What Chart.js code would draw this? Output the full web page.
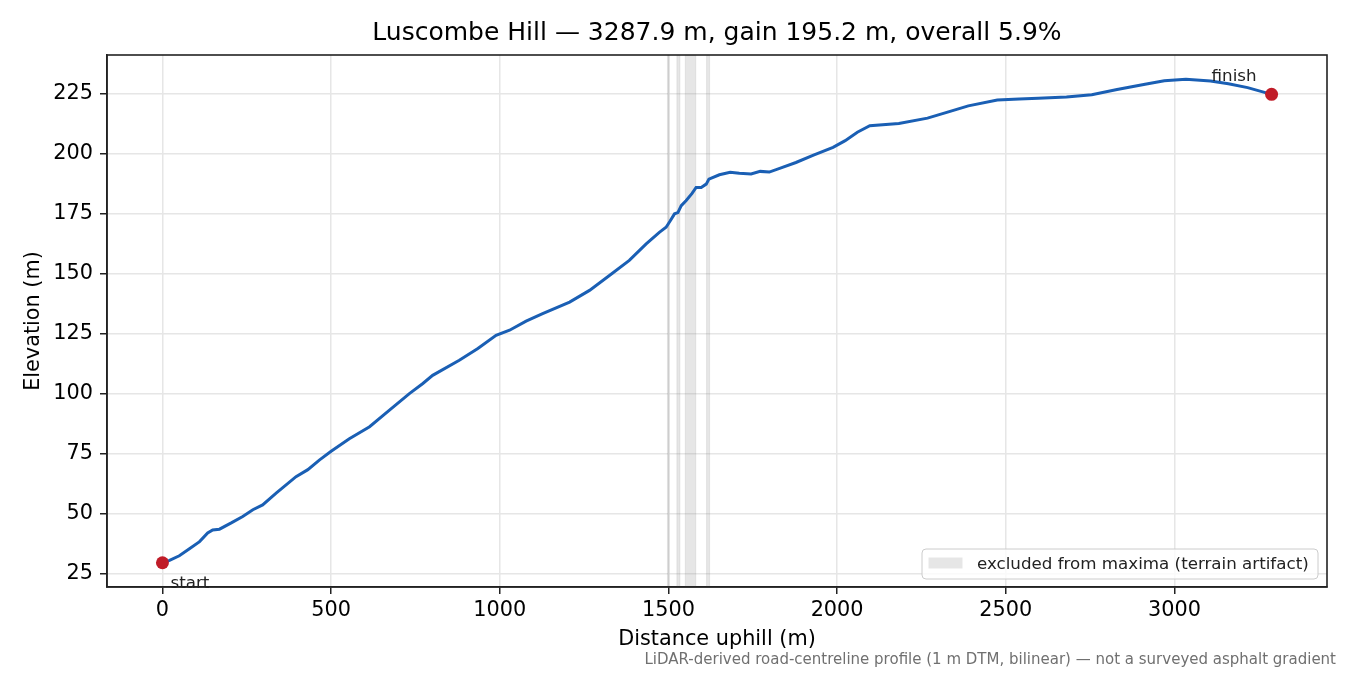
<!DOCTYPE html>
<html>
<head>
<meta charset="utf-8">
<script src="https://cdn.jsdelivr.net/npm/chart.js@4/dist/chart.umd.min.js"></script>
<style>
  html, body { margin: 0; padding: 0; background: #fff; }
  #wrap { width: 1350px; height: 675px; }
</style>
</head>
<body>
<div id="wrap"><canvas id="profile" width="1350" height="675"></canvas></div>
<script>
// profile (distance uphill in m, elevation in m)
const distances = [0, 21, 50, 80, 110, 134, 149, 169, 204, 238, 268, 297, 337, 396, 431, 465, 500, 554, 614, 673, 732, 772, 801, 880, 935, 989, 1029, 1078, 1127, 1207, 1266, 1325, 1384, 1434, 1473, 1493, 1505, 1518, 1528, 1538, 1552, 1570, 1582, 1597, 1612, 1620, 1651, 1683, 1710, 1745, 1772, 1799, 1840, 1878, 1930, 1988, 2024, 2060, 2097, 2183, 2268, 2330, 2389, 2475, 2540, 2596, 2680, 2755, 2830, 2913, 2970, 3034, 3107, 3160, 3217, 3288];
const elevations = [29.6, 30.6, 32.5, 35.4, 38.4, 42.0, 43.3, 43.6, 46.2, 48.9, 51.7, 53.7, 58.6, 65.5, 68.4, 72.4, 76.1, 81.3, 86.3, 93.2, 100.1, 104.3, 107.7, 114.0, 118.9, 124.4, 126.5, 130.3, 133.4, 138.2, 143.1, 149.3, 155.6, 162.5, 167.3, 169.4, 172.0, 175.0, 175.5, 178.4, 180.5, 183.5, 186.0, 186.0, 187.4, 189.5, 191.3, 192.3, 191.9, 191.6, 192.7, 192.4, 194.5, 196.4, 199.5, 202.7, 205.5, 209.0, 211.7, 212.7, 214.9, 217.5, 220.0, 222.4, 222.9, 223.2, 223.7, 224.6, 226.8, 229.0, 230.5, 231.1, 230.4, 229.2, 227.6, 224.8];

const xTicks = [0, 500, 1000, 1500, 2000, 2500, 3000];
const yTicks = [25, 50, 75, 100, 125, 150, 175, 200, 225];

// spans excluded from maxima (m)
const excludedBands = [[1497, 1502], [1525, 1534], [1550, 1581], [1613, 1622]];

const titleText = "Luscombe Hill \u2014 3287.9 m, gain 195.2 m, overall 5.9%";
const legendText = "excluded from maxima (terrain artifact)";
const footerText = "LiDAR-derived road-centreline profile (1 m DTM, bilinear) \u2014 not a surveyed asphalt gradient";

const FONT = "'DejaVu Sans', sans-serif";
const lineBlue = "#1a5fb4";
const dotRed = "#c01c28";

const profilePoints = distances.map((d, i) => ({x: d, y: elevations[i]}));
const last = distances.length - 1;
const endPoints = [
  {x: distances[0], y: elevations[0]},
  {x: distances[last], y: elevations[last]}
];

const extras = {
  id: "extras",
  beforeDatasetsDraw(chart) {
    const {ctx, chartArea: a, scales: {x}} = chart;
    ctx.save();
    ctx.beginPath();
    ctx.rect(a.left, a.top, a.right - a.left, a.bottom - a.top);
    ctx.clip();
    excludedBands.forEach(([b0, b1]) => {
      const x0 = x.getPixelForValue(b0), x1 = x.getPixelForValue(b1);
      ctx.fillStyle = "rgba(128,128,128,0.2)";
      ctx.fillRect(x0, a.top, x1 - x0, a.bottom - a.top);
      ctx.strokeStyle = "rgba(128,128,128,0.15)";
      ctx.lineWidth = 1;
      ctx.strokeRect(x0, a.top, x1 - x0, a.bottom - a.top);
    });
    ctx.restore();
  },
  afterDraw(chart) {
    const {ctx, chartArea: a, scales: {x, y}} = chart;
    ctx.save();
    // frame
    ctx.strokeStyle = "#222";
    ctx.lineWidth = 1.6;
    ctx.strokeRect(a.left, a.top, a.right - a.left, a.bottom - a.top);

    // title
    ctx.fillStyle = "#000";
    ctx.font = "25px " + FONT;
    ctx.textAlign = "center";
    ctx.textBaseline = "middle";
    ctx.fillText(titleText, (a.left + a.right) / 2, 33);

    // start / finish notes
    ctx.font = "16.7px " + FONT;
    ctx.fillStyle = "#222";
    ctx.textBaseline = "alphabetic";
    const sx = x.getPixelForValue(distances[0]), sy = y.getPixelForValue(elevations[0]);
    ctx.textAlign = "left";
    ctx.fillText("start", sx + 8, sy + 25);
    const fx = x.getPixelForValue(distances[last]), fy = y.getPixelForValue(elevations[last]);
    ctx.textAlign = "right";
    ctx.fillText("finish", fx - 15, fy - 13);

    // legend
    const lx = a.right - 405, ly = a.bottom - 38, lw = 396, lh = 30;
    ctx.beginPath();
    ctx.roundRect(lx, ly, lw, lh, 4);
    ctx.fillStyle = "rgba(255,255,255,0.8)";
    ctx.fill();
    ctx.strokeStyle = "#cccccc";
    ctx.lineWidth = 1;
    ctx.stroke();
    ctx.fillStyle = "rgba(128,128,128,0.2)";
    ctx.fillRect(lx + 6.5, ly + 8.5, 34, 11);
    ctx.fillStyle = "#222";
    ctx.textAlign = "left";
    ctx.fillText(legendText, lx + 55, ly + 19.5);

    // footer note
    ctx.font = "15px " + FONT;
    ctx.fillStyle = "#707070";
    ctx.textAlign = "right";
    ctx.fillText(footerText, 1336, 664);
    ctx.restore();
  }
};

const tickFont = {family: FONT, size: 20.8};

new Chart(document.getElementById("profile").getContext("2d"), {
  type: "line",
  data: {
    datasets: [
      {
        label: "profile",
        data: profilePoints,
        borderColor: lineBlue,
        backgroundColor: lineBlue,
        borderWidth: 3,
        pointRadius: 0,
        tension: 0,
        fill: false,
        order: 2
      },
      {
        label: "ends",
        data: endPoints,
        showLine: false,
        pointRadius: 6.5,
        pointBackgroundColor: dotRed,
        pointBorderColor: dotRed,
        borderWidth: 0,
        order: 1
      }
    ]
  },
  options: {
    responsive: false,
    animation: false,
    devicePixelRatio: 1,
    layout: {padding: {top: 55, right: 23, left: 0, bottom: 0}},
    scales: {
      x: {
        type: "linear",
        min: -164.4,
        max: 3452.3,
        afterBuildTicks: (s) => { s.ticks = xTicks.map(v => ({value: v})); },
        afterFit: (s) => { s.height = 88; },
        ticks: {color: "#000", font: tickFont, maxRotation: 0, padding: 4, callback: (v) => String(v)},
        grid: {color: "#e6e6e6", lineWidth: 1.5, tickColor: "#222", tickLength: 7, tickWidth: 1.5},
        border: {display: true, color: "#222", width: 1.6},
        title: {display: true, text: "Distance uphill (m)", color: "#000", font: tickFont, padding: {top: 0, bottom: 22.5}}
      },
      y: {
        type: "linear",
        min: 19.5,
        max: 241.2,
        afterBuildTicks: (s) => { s.ticks = yTicks.map(v => ({value: v})); },
        afterFit: (s) => { s.width = 107; },
        ticks: {color: "#000", font: tickFont, padding: 7, callback: (v) => String(v)},
        grid: {color: "#e6e6e6", lineWidth: 1.5, tickColor: "#222", tickLength: 7, tickWidth: 1.5},
        border: {display: true, color: "#222", width: 1.6},
        title: {display: true, text: "Elevation (m)", color: "#000", font: tickFont, padding: {top: 21.5, bottom: 0}}
      }
    },
    plugins: {
      legend: {display: false},
      tooltip: {enabled: false},
      title: {display: false}
    }
  },
  plugins: [extras]
});
</script>
</body>
</html>
